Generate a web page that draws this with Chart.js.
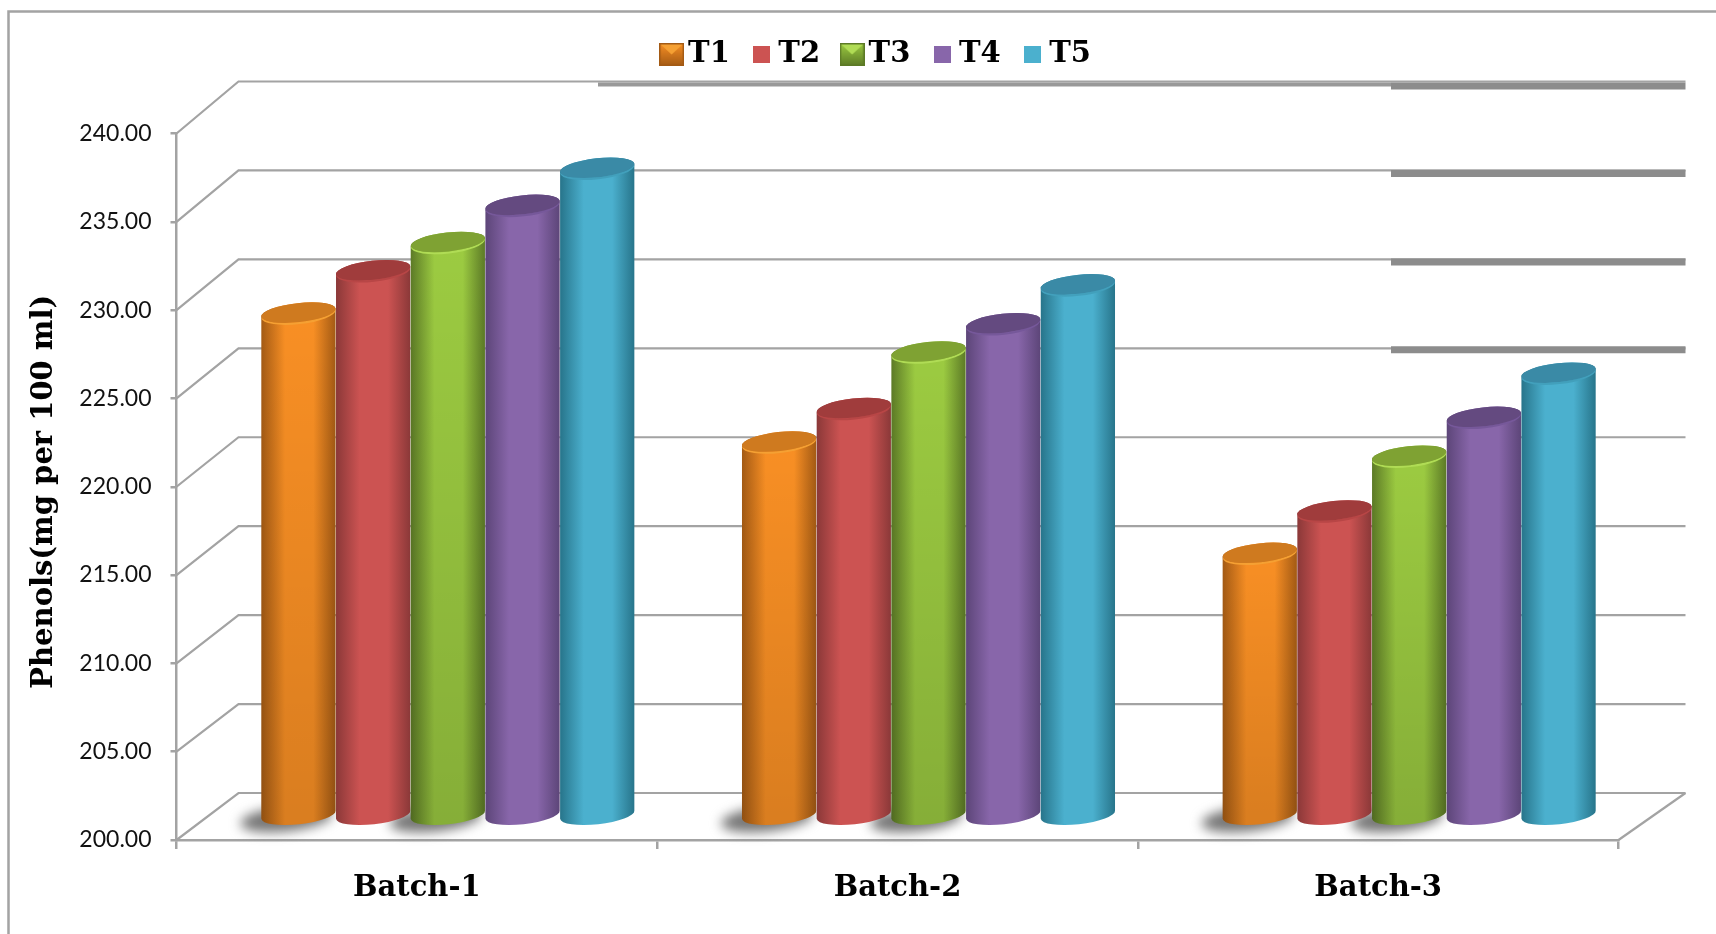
<!DOCTYPE html>
<html>
<head>
<meta charset="utf-8">
<title>Phenols by batch</title>
<script src="https://cdn.jsdelivr.net/npm/chart.js@4"></script>
<style>
  html, body { margin: 0; padding: 0; background: #fff; overflow: hidden; }
  #wrap { position: relative; width: 1716px; height: 934px; }
</style>
</head>
<body>
<div id="wrap"><canvas id="phenolChart" width="1716" height="934"></canvas></div>
<script>
// Chart data
const batches = ["Batch-1", "Batch-2", "Batch-3"];
const t1Values = [228.5, 221.2, 214.9];
const t2Values = [230.9, 223.1, 217.3];
const t3Values = [232.5, 226.3, 220.4];
const t4Values = [234.6, 227.9, 222.6];
const t5Values = [236.7, 230.1, 225.1];
const yTickValues = [200, 205, 210, 215, 220, 225, 230, 235, 240];
const yAxisTitle = "Phenols(mg per 100 ml)";

// Look of each cylinder: body edge/mid colours and the top cap
const styles = [
  { label: "T1", edge: "#a35a14", mid: "#f88f24", cap: "#cf7a1f", rim: "#f5a033", shade: 0.12, glossy: true },
  { label: "T2", edge: "#8a3838", mid: "#cc5352", cap: "#a03c3c", rim: "#b84646", shade: 0, glossy: false },
  { label: "T3", edge: "#5c7a26", mid: "#9ccb41", cap: "#7fa233", rim: "#b0dc55", shade: 0.14, glossy: true },
  { label: "T4", edge: "#5c4578", mid: "#8866aa", cap: "#644a80", rim: "#76589a", shade: 0, glossy: false },
  { label: "T5", edge: "#27748a", mid: "#4bb0ce", cap: "#3a8aa6", rim: "#42a0bc", shade: 0, glossy: false },
];
const seriesValues = [t1Values, t2Values, t3Values, t4Values, t5Values];

const lineGray = "#a3a3a3";
const heavyGray = "#8c8c8c";
const serifFont = "'DejaVu Serif', serif";

// Depth of the floor, and where the bars stand inside it
const depthX = 62;
const depthY = 47;
const backStretch = 712 / 707;
const barShiftX = 31;
const barShiftY = -24;
const capRy = 9.5;
const capTilt = -0.11;

// Upper back lines that carry a heavier stretch, and how far it sits below each
const heavyValues = [240, 235, 230, 225];
const heavyDrop = [4.5, 3, 2.5, 1.5];

const backY = (y, scale) => {
  const bottom = scale.getPixelForValue(200);
  return bottom - depthY + (y - bottom) * backStretch;
};

// Legend swatch, bevelled for the glossy series
const makeSwatch = (s) => {
  const c = document.createElement("canvas");
  c.width = s.glossy ? 25 : 17;
  c.height = s.glossy ? 23 : 17;
  const g = c.getContext("2d");
  if (!s.glossy) {
    g.fillStyle = s.mid;
    g.fillRect(0, 0, c.width, c.height);
    return c;
  }
  const fill = g.createLinearGradient(0, 0, 0, c.height);
  fill.addColorStop(0, s.mid);
  fill.addColorStop(1, s.edge);
  g.fillStyle = fill;
  g.fillRect(0, 0, c.width, c.height);
  g.fillStyle = s.rim;
  g.beginPath();
  g.moveTo(1, 1);
  g.lineTo(c.width - 1, 1);
  g.lineTo(c.width / 2, c.height * 0.5);
  g.closePath();
  g.fill();
  g.strokeStyle = s.edge;
  g.lineWidth = 1.5;
  g.strokeRect(0.75, 0.75, c.width - 1.5, c.height - 1.5);
  return c;
};

// Frame, side walls and back wall lines
const drawWalls = (chart) => {
  const { ctx, chartArea } = chart;
  const y = chart.scales.y;
  const left = chartArea.left;
  const right = chartArea.right;
  const backLeft = left + depthX;
  const backRight = right + depthX + 5;

  ctx.save();
  ctx.strokeStyle = lineGray;
  ctx.lineWidth = 2.5;
  ctx.beginPath();
  ctx.moveTo(8.5, 934);
  ctx.lineTo(8.5, 11.5);
  ctx.lineTo(1716, 11.5);
  ctx.stroke();

  yTickValues.forEach((v) => {
    const py = y.getPixelForValue(v);
    const by = backY(py, y);
    ctx.lineWidth = 2.2;
    ctx.beginPath();
    ctx.moveTo(left, py);
    ctx.lineTo(backLeft, by);
    ctx.lineTo(backRight, by);
    ctx.stroke();
  });

  // floor edge on the right
  const floor = y.getPixelForValue(200);
  ctx.beginPath();
  ctx.moveTo(right, floor);
  ctx.lineTo(backRight, backY(floor, y));
  ctx.stroke();

  // heavier stretches on the upper back lines
  ctx.strokeStyle = heavyGray;
  ctx.lineWidth = 7;
  heavyValues.forEach((v, i) => {
    const by = backY(y.getPixelForValue(v), y) + heavyDrop[i];
    ctx.beginPath();
    ctx.moveTo(1391, by);
    ctx.lineTo(backRight, by);
    ctx.stroke();
  });
  ctx.strokeStyle = "#999999";
  ctx.lineWidth = 4;
  const topBack = backY(y.getPixelForValue(240), y) + 3;
  ctx.beginPath();
  ctx.moveTo(598, topBack);
  ctx.lineTo(1391, topBack);
  ctx.stroke();
  ctx.restore();
};

// Soft floor shadows behind the glossy cylinders
const drawShadows = (chart) => {
  const { ctx } = chart;
  [0, 2].forEach((di) => {
    chart.getDatasetMeta(di).data.forEach((bar) => {
      ctx.save();
      ctx.filter = "blur(6px)";
      ctx.fillStyle = "#757575";
      ctx.beginPath();
      ctx.ellipse(bar.x + barShiftX - 12, bar.base + barShiftY + 4, bar.width / 2 + 9, capRy + 3, capTilt, 0, Math.PI * 2);
      ctx.fill();
      ctx.restore();
    });
  });
};

// One series of cylinders, positioned from the bar elements
const drawCylinders = (chart, meta) => {
  const { ctx } = chart;
  const s = styles[meta.index];
  meta.data.forEach((bar) => {
    const cx = bar.x + barShiftX;
    const top = bar.y + barShiftY;
    const base = bar.base + barShiftY;
    const rx = bar.width / 2;

    const outline = () => {
      ctx.beginPath();
      ctx.ellipse(cx, base, rx, capRy, capTilt, Math.PI, 0, true);
      ctx.ellipse(cx, top, rx, capRy, capTilt, 0, Math.PI, true);
      ctx.closePath();
    };

    const body = ctx.createLinearGradient(cx - rx, 0, cx + rx, 0);
    body.addColorStop(0, s.edge);
    body.addColorStop(0.32, s.mid);
    body.addColorStop(0.7, s.mid);
    body.addColorStop(1, s.edge);
    ctx.save();
    outline();
    ctx.fillStyle = body;
    ctx.fill();
    if (s.shade) {
      const fade = ctx.createLinearGradient(0, top, 0, base);
      fade.addColorStop(0, "rgba(0,0,0,0)");
      fade.addColorStop(1, "rgba(0,0,0," + s.shade + ")");
      ctx.fillStyle = fade;
      ctx.fill();
    }

    // cap, with a lighter lip on its near side
    ctx.strokeStyle = s.rim;
    ctx.lineWidth = 2;
    ctx.beginPath();
    ctx.ellipse(cx, top + 1, rx - 1, capRy, capTilt, 0, Math.PI);
    ctx.stroke();
    ctx.fillStyle = s.cap;
    ctx.beginPath();
    ctx.ellipse(cx, top, rx, capRy, capTilt, 0, Math.PI * 2);
    ctx.fill();
    ctx.restore();
  });
};

const cylinderPlugin = {
  id: "cylinders",
  afterLayout: (chart) => {
    // legend sits higher and further right than its layout slot
    chart.legend.left += 71;
    chart.legend.right += 71;
    chart.legend.top -= 54.5;
    chart.legend.bottom -= 54.5;

    // axis title sits a little below the middle of the axis
    const yScale = chart.scales.y;
    const drawTitle = yScale.drawTitle;
    yScale.drawTitle = function () {
      chart.ctx.save();
      chart.ctx.translate(0, 5);
      drawTitle.call(yScale);
      chart.ctx.restore();
    };
  },
  beforeDatasetsDraw: (chart) => {
    drawWalls(chart);
    drawShadows(chart);
    // left to right, so each cylinder overlaps the one before it
    styles.forEach((s, i) => drawCylinders(chart, chart.getDatasetMeta(i)));
  },
  // the cylinders above replace the flat bars
  beforeDatasetDraw: () => false,
};

const datasets = styles.map((s, i) => ({
  label: s.label,
  data: seriesValues[i],
  backgroundColor: s.mid,
  pointStyle: makeSwatch(s),
}));

const ctx = document.getElementById("phenolChart").getContext("2d");
new Chart(ctx, {
  type: "bar",
  data: { labels: batches, datasets },
  plugins: [cylinderPlugin],
  options: {
    responsive: false,
    animation: false,
    layout: { padding: { top: 64.5, right: 97.5, bottom: 0, left: 0 } },
    datasets: { bar: { categoryPercentage: 0.777, barPercentage: 1.0, base: 200 } },
    plugins: {
      tooltip: { enabled: false },
      legend: {
        position: "top",
        labels: {
          usePointStyle: true,
          boxWidth: 4,
          padding: 30,
          color: "#000",
          font: { family: serifFont, size: 29, weight: "bold" },
          generateLabels: (chart) =>
            chart.data.datasets.map((d, i) => ({
              text: d.label,
              datasetIndex: i,
              pointStyle: d.pointStyle,
              fontColor: "#000",
              lineWidth: 0,
            })),
        },
      },
    },
    scales: {
      x: {
        afterFit: (scale) => { scale.height = 94; },
        grid: { drawOnChartArea: false, color: lineGray, lineWidth: 2.5, tickLength: 9 },
        border: { color: lineGray, width: 2.5 },
        ticks: {
          padding: 22,
          color: "#000",
          maxRotation: 0,
          font: { family: serifFont, size: 29, weight: "bold" },
        },
      },
      y: {
        min: 200,
        max: 240,
        afterFit: (scale) => { scale.width = 176.5; },
        afterBuildTicks: (scale) => { scale.ticks = yTickValues.map((value) => ({ value })); },
        grid: { drawOnChartArea: false, color: lineGray, lineWidth: 2.5, tickLength: 6 },
        border: { color: lineGray, width: 2.5 },
        title: {
          display: true,
          text: yAxisTitle,
          color: "#000",
          padding: { top: 27, bottom: 0 },
          font: { family: serifFont, size: 29, weight: "bold" },
        },
        ticks: {
          padding: 19,
          color: "#111",
          font: { family: "Lato", size: 23 },
          callback: (value) => Number(value).toFixed(2),
        },
      },
    },
  },
});
</script>
</body>
</html>
